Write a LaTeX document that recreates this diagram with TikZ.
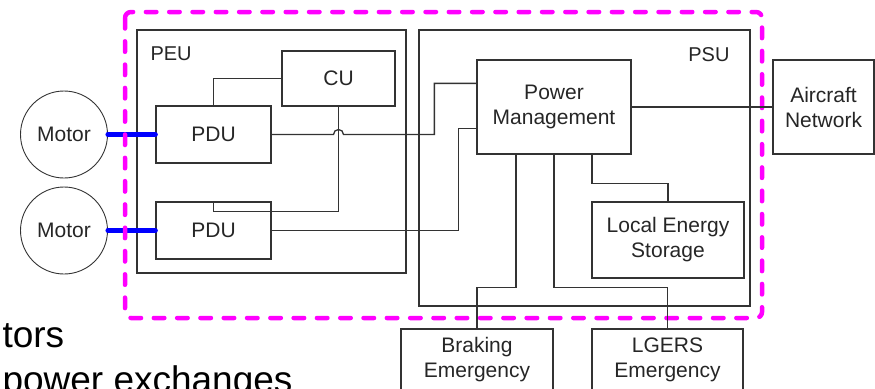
\documentclass[tikz,border=0pt]{standalone}
\usepackage{fontspec}
\setmainfont{Liberation Sans}
\usetikzlibrary{calc}
\definecolor{boundaryMagenta}{RGB}{255,0,255}
\definecolor{driveBlue}{RGB}{0,0,255}

\begin{document}
\begin{tikzpicture}[x=1pt,y=-1pt,
  unit/.style={draw=black!80, line width=1.3pt, inner sep=0pt, align=center, text=black!85, font=\fontsize{21}{25}\selectfont},
  motor/.style={circle, draw=black!80, line width=0.9pt, minimum size=87pt, inner sep=0pt, text=black!85, font=\fontsize{21}{25}\selectfont},
  tag/.style={text=black!85, font=\fontsize{20}{25}\selectfont},
  slide/.style={anchor=base west, text=black, font=\fontsize{37}{45}\selectfont},
  link/.style={black!80, line width=1.3pt},
  drive/.style={driveBlue, line width=5pt, line cap=round},
  boundary/.style={boundaryMagenta, line width=4.5pt, dash pattern=on 10.5pt off 12.8pt, line cap=round, rounded corners=6pt}]
\path[use as bounding box, clip] (0,0) rectangle (875,388);

% containers
\node[unit, minimum width=269pt, minimum height=243pt] (peu) at (271.5,151.5) {};
\node[unit, minimum width=331pt, minimum height=276pt] (psu) at (584.5,168) {};
\node[tag, anchor=base west] (peuText) at (147,60) {PEU};
\node[tag, anchor=base east] (psuText) at (733,61) {PSU};

% units
\node[motor] (motorA) at (64,134.5) {Motor};
\node[motor] (motorB) at (64,230.5) {Motor};
\node[unit, minimum width=115pt, minimum height=57pt] (pduA) at (213.5,134.5) {PDU};
\node[unit, minimum width=115pt, minimum height=57pt] (pduB) at (213.5,230.5) {PDU};
\node[unit, minimum width=113pt, minimum height=55pt] (cu) at (338.5,78.5) {CU};
\node[unit, minimum width=154pt, minimum height=94pt] (pm) at (554,107) {Power\\Management};
\node[unit, minimum width=101pt, minimum height=94pt] (net) at (823.5,107) {Aircraft\\Network};
\node[unit, minimum width=152pt, minimum height=76pt] (les) at (668,240) {Local Energy\\Storage};
\node[unit, minimum width=152pt, minimum height=62pt] (brake) at (477,360) {Braking\\Emergency};
\node[unit, minimum width=151pt, minimum height=62pt] (lgers) at (667.5,360) {LGERS\\Emergency};

% slide text
\node[slide] (lineA) at (-1,347) {tors};
\node[slide] (lineB) at (-1,392) {power exchanges};

% power feeds
\draw[drive] (motorA.east) -- (pduA.west);
\draw[drive] (motorB.east) -- (pduB.west);

% system boundary
\draw[boundary] (125,12) rectangle (762,318);

% signal links
\coordinate (pmInA) at ($(pm.north west)+(0,24)$);
\coordinate (pmInB) at ($(pm.north west)+(0,69)$);
\draw[link] (pduA.north) |- (cu.west);
\draw[link] (cu.south) -- ++(0,104.5) -| (pduB.north);
\draw[link] (pduA.east) -- ($(cu.south |- pduA.east)+(-5,0)$)
  arc[start angle=180, end angle=0, radius=5pt]
  -- ($(pmInA |- pduA.east)+(-42,0)$) |- (pmInA);
\draw[link] (pduB.east) -- ($(pmInB |- pduB.east)+(-18,0)$) |- (pmInB);
\draw[link] (pm.east) -- (net.west);
\draw[link] ($(pm.south)+(38,0)$) -- ++(0,29) -| (les.north);
\draw[link] ($(pm.south)+(-38,0)$) -- ++(0,133) -| (brake.north);
\draw[link] (pm.south) -- ++(0,133) -| (lgers.north);
\end{tikzpicture}
\end{document}
